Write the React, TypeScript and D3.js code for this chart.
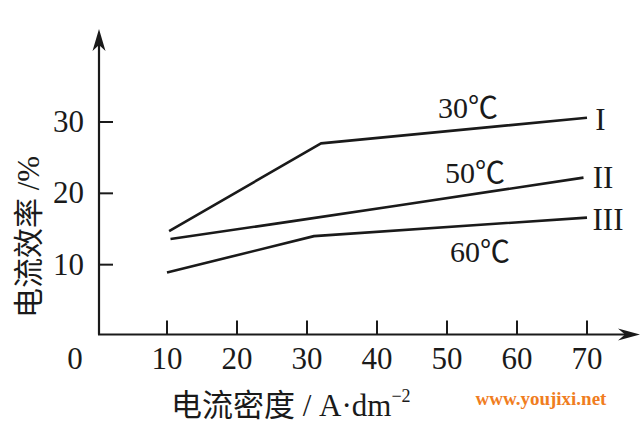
import React from "react";
import * as d3 from "d3";

const xTicks = [10, 20, 30, 40, 50, 60, 70];
const yTicks = [10, 20, 30];

const seriesIx = [10.3, 32, 70];
const seriesIy = [14.7, 27.0, 30.6];
const seriesIIx = [10.5, 28, 43, 69.5];
const seriesIIy = [13.6, 16.1, 18.3, 22.2];
const seriesIIIx = [10, 31, 70];
const seriesIIIy = [8.9, 14.0, 16.6];

const tempLabels = ["30℃", "50℃", "60℃"];
const tempLabelX = [53, 54, 54.7];
const tempLabelY = [30.5, 21.4, 10.4];
const romanLabels = ["I", "II", "III"];
const romanLabelX = [71.9, 72.3, 73];
const romanLabelY = [28.9, 20.7, 14.9];

const W = 641;
const H = 437;
const SERIF = '"Liberation Serif", "Noto Sans CJK SC", serif';
const CJK = '"Noto Sans CJK SC", sans-serif';

export default function App() {
  const x = d3.scaleLinear().domain([0, 70]).range([97, 587]);
  const y = d3.scaleLinear().domain([0, 30]).range([336, 122]);
  const line = d3
    .line<[number, number]>()
    .x((d) => x(d[0]))
    .y((d) => y(d[1]));

  const series = [
    seriesIx.map((v, i) => [v, seriesIy[i]] as [number, number]),
    seriesIIx.map((v, i) => [v, seriesIIy[i]] as [number, number]),
    seriesIIIx.map((v, i) => [v, seriesIIIy[i]] as [number, number]),
  ];

  const axX = x(0) + 2;
  const axY = y(0) - 1.5;
  const ink = "#1a1a1a";

  return (
    <svg
      width={W}
      height={H}
      style={{ position: "absolute", left: 0, top: 0, background: "#fff" }}
      fontFamily={SERIF}
    >
      <rect x={0} y={0} width={W} height={H} fill="#fff" />
      {/* axes */}
      <line x1={axX} y1={axY} x2={axX} y2={40} stroke={ink} strokeWidth={2.2} />
      <line x1={axX - 1} y1={axY} x2={628} y2={axY} stroke={ink} strokeWidth={2.2} />
      <path
        d={`M${axX},29 L${axX + 6.5},51 L${axX},45 L${axX - 6.5},51 Z`}
        fill={ink}
      />
      <path
        d={`M640,${axY} L618,${axY - 6} L625,${axY} L618,${axY + 6} Z`}
        fill={ink}
      />
      {/* y ticks */}
      {yTicks.map((t) => (
        <g key={"y" + t}>
          <line x1={axX} x2={axX + 14} y1={y(t)} y2={y(t)} stroke={ink} strokeWidth={2} />
          <text
            x={84}
            y={y(t) + 10}
            textAnchor="end"
            fontSize={31}
            fill={ink}
          >
            {t}
          </text>
        </g>
      ))}
      {/* x ticks */}
      {xTicks.map((t) => (
        <g key={"x" + t}>
          <line x1={x(t)} x2={x(t)} y1={axY} y2={axY - 14} stroke={ink} strokeWidth={2} />
          <text x={x(t)} y={369} textAnchor="middle" fontSize={31} fill={ink}>
            {t}
          </text>
        </g>
      ))}
      <text x={75} y={369} textAnchor="middle" fontSize={31} fill={ink}>
        0
      </text>
      {/* series */}
      {series.map((s, i) => (
        <path
          key={"s" + i}
          d={line(s) || ""}
          fill="none"
          stroke={ink}
          strokeWidth={2.6}
          strokeLinejoin="round"
        />
      ))}
      {tempLabels.map((t, i) => (
        <text
          key={"t" + i}
          x={x(tempLabelX[i])}
          y={y(tempLabelY[i])}
          textAnchor="middle"
          fontSize={30}
          fill={ink}
        >
          {t}
        </text>
      ))}
      {romanLabels.map((t, i) => (
        <text
          key={"r" + i}
          x={x(romanLabelX[i])}
          y={y(romanLabelY[i])}
          textAnchor="middle"
          fontSize={31}
          fill={ink}
        >
          {t}
        </text>
      ))}
      {/* axis titles */}
      <text
        transform="translate(39,237) rotate(-90)"
        textAnchor="middle"
        fill={ink}
      >
        <tspan fontFamily={CJK} fontSize={30}>电流效率</tspan>
        <tspan fontSize={31}> /%</tspan>
      </text>
      <text x={171} y={416} fill={ink}>
        <tspan fontFamily={CJK} fontSize={31}>电流密度</tspan>
        <tspan fontSize={31}> / A·dm</tspan>
        <tspan fontSize={18} dy={-14}>
          −2
        </tspan>
      </text>
      <text
        x={541}
        y={405}
        textAnchor="middle"
        fontSize={19}
        fontWeight="bold"
        fill="#f07d1e"
      >
        www.youjixi.net
      </text>
    </svg>
  );
}
